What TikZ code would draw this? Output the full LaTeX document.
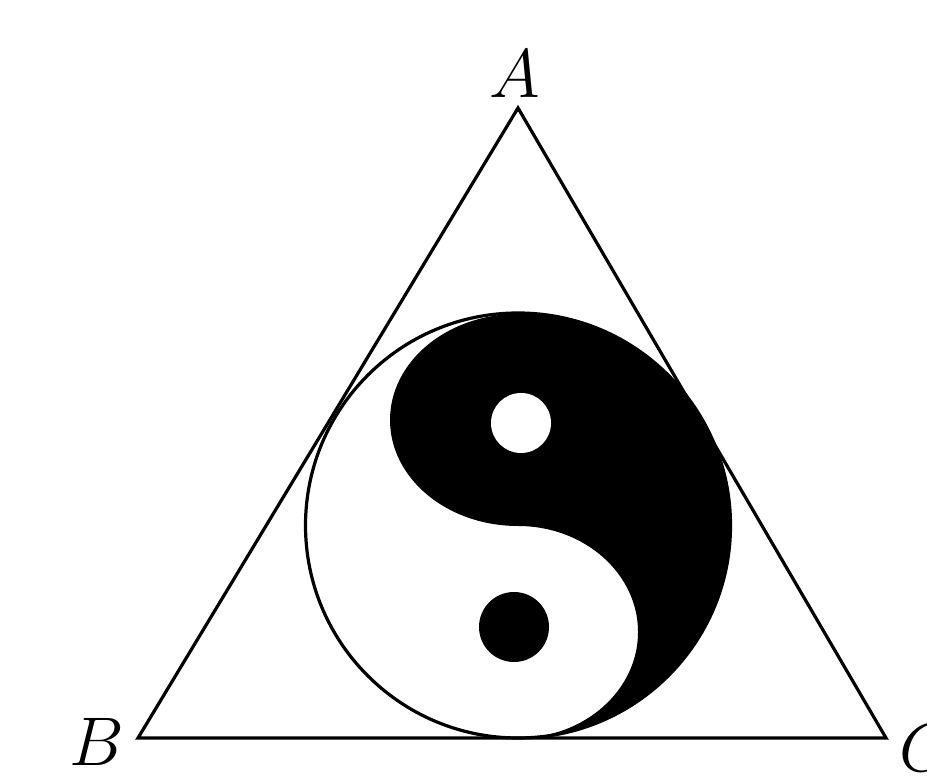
\documentclass[tikz,border=0pt]{standalone}
\usepackage{tikz}

\begin{document}
\begin{tikzpicture}[x=0.25bp,y=-0.25bp,line width=0.8bp,every node/.style={font=\fontsize{19}{22}\selectfont}]
\useasboundingbox (0,0) rectangle (927,776);
\coordinate (A) at (518,108);
\coordinate (B) at (138,738);
\coordinate (C) at (886,738);
\coordinate (O) at (518,525.5);
% black half with the S-curve
\fill[black] (518,313) arc[start angle=-90,end angle=90,radius=212.5]
  arc[start angle=90,end angle=-90,x radius=120,y radius=106]
  arc[start angle=90,end angle=270,x radius=128,y radius=106] -- cycle;
\fill[white] (521,423) circle[radius=30];
\fill[black] (514,627) circle[radius=35];
\draw (O) circle[radius=212.5];
\draw (A) -- (B) -- (C) -- cycle;
\node (lA) at (515,74) {$A$};
\node (lB) at (97,742) {$B$};
\node (lC) at (926,748) {$C$};
\end{tikzpicture}
\end{document}
